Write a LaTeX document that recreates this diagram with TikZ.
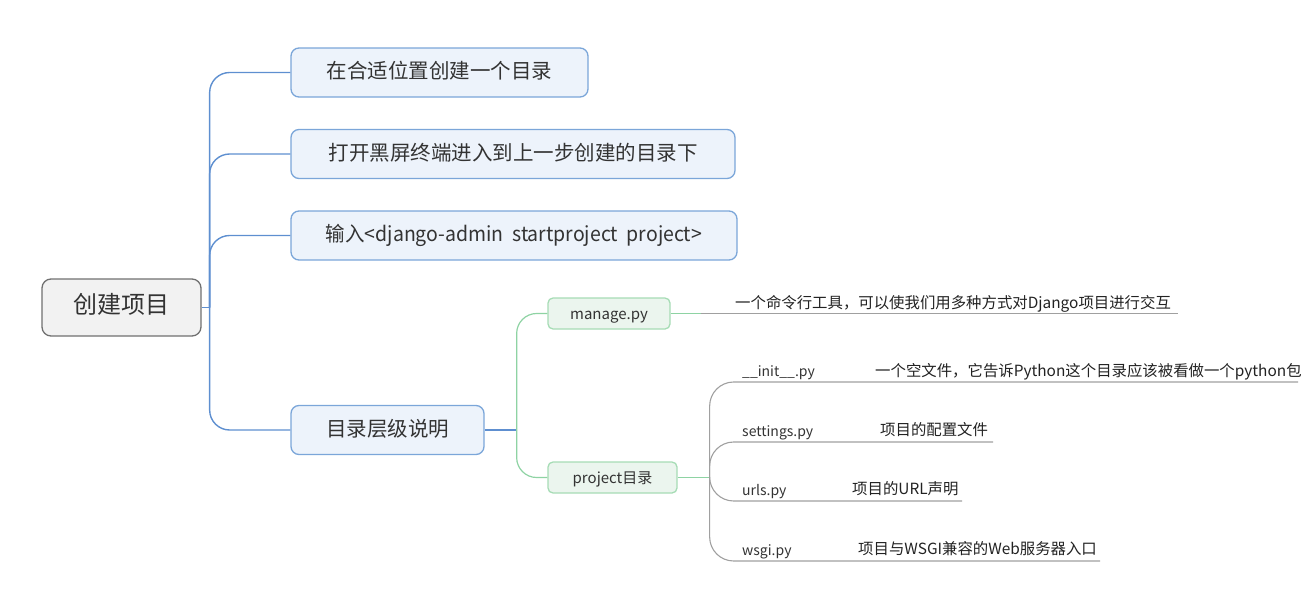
\documentclass[tikz,border=0pt]{standalone}
\usepackage{fontspec}
\usepackage{graphicx}
\setmainfont{Noto Sans CJK SC}
\usetikzlibrary{calc}
\definecolor{blueline}{HTML}{5E8FD0}
\definecolor{bluefill}{HTML}{EDF3FB}
\definecolor{blueborder}{HTML}{7BA6D9}
\definecolor{rootfill}{HTML}{F2F2F2}
\definecolor{rootborder}{HTML}{707070}
\definecolor{greenline}{HTML}{8ED3A3}
\definecolor{greenfill}{HTML}{EBF5EE}
\definecolor{greenborder}{HTML}{A6DCB5}
\definecolor{grayline}{HTML}{A0A0A0}
\definecolor{txt}{HTML}{333333}
\definecolor{desc}{HTML}{222222}
\begin{document}
\begin{tikzpicture}[x=1pt,y=-1pt,
  every node/.style={text height=1.2em, text depth=0em},
  rootbox/.style={draw=rootborder, fill=rootfill, rounded corners=9, line width=1.3, minimum width=159, minimum height=57, inner sep=0, text=txt, font=\fontsize{24}{28}\selectfont},
  bluebox/.style={draw=blueborder, fill=bluefill, rounded corners=8, line width=1.3, minimum height=49, inner sep=0, text=txt, font=\fontsize{20.5}{24}\selectfont},
  greenbox/.style={draw=greenborder, fill=greenfill, rounded corners=5, line width=1.3, minimum height=31, inner sep=0, text=txt, font=\fontsize{15}{18}\selectfont},
  leaf/.style={anchor=west, inner sep=0, text=txt, font=\fontsize{14}{17}\selectfont},
  desctext/.style={anchor=west, inner sep=0, text=desc, font=\fontsize{15.4}{18}\selectfont},
  bl/.style={draw=blueline, line width=1.4},
  gl/.style={draw=greenline, line width=1.2},
  grl/.style={draw=grayline, line width=1.1}]
\useasboundingbox (0,0) rectangle (1302,616);
% root and main branches
\node[rootbox] (root) at (121.5,307.5) {创建项目};
\node[bluebox, minimum width=297] (b1) at (439.5,72.5) {在合适位置创建一个目录};
\node[bluebox, minimum width=444] (b2) at (513,154) {打开黑屏终端进入到上一步创建的目录下};
\node[bluebox, minimum width=446] (b3) at (514,235.5) {\scalebox{0.95}[1]{输入<django-admin~~startproject~~project>}};
\node[bluebox, minimum width=193] (b4) at (387.5,430) {目录层级说明};
\coordinate (t) at ($(root.east)+(8,0)$);
\draw[bl] (root.east) -- (t);
\foreach \n in {b1,b2,b3,b4} \draw[bl, rounded corners=20] (t) |- (\n.west);
% second level
\node[greenbox, minimum width=122] (m) at (609,313.5) {manage.py};
\node[greenbox, minimum width=129] (p) at (612.5,477.5) {project目录};
\coordinate (g) at ($(b4.east)+(32,0)$);
\draw[bl] (b4.east) -- (g);
\draw[gl, rounded corners=20] (g) |- (m.west);
\draw[gl, rounded corners=20] (g) |- (p.west);
% manage.py description
\coordinate (m1) at ($(m.east)+(30,0)$);
\coordinate (mE) at (1178,313.5);
\draw[gl] (m.east) -- (m1);
\draw[grl] (m1) -- (mE);
\node[desctext] (md) at (735,302) {一个命令行工具，可以使我们用多种方式对Django项目进行交互};
% project directory
\coordinate (v) at ($(p.east)+(32,0)$);
\draw[gl] (p.east) -- (v);
\coordinate (iE) at (1298,382);
\coordinate (sE) at (993,442);
\coordinate (uE) at (962,501);
\coordinate (wE) at (1100,561);
\foreach \e in {iE,sE,uE,wE} \draw[grl, rounded corners=24] (v) |- (\e);
\node[leaf] (il) at (742,370) {\_\_init\_\_.py};
\node[leaf] (sl) at (742,430) {settings.py};
\node[leaf] (ul) at (742,489) {urls.py};
\node[leaf] (wl) at (742,549) {wsgi.py};
\node[desctext] (id) at (875,370) {一个空文件，它告诉Python这个目录应该被看做一个python包};
\node[desctext] (sd) at (880,429) {项目的配置文件};
\node[desctext] (ud) at (852,488) {项目的URL声明};
\node[desctext] (wd) at (858,548) {项目与WSGI兼容的Web服务器入口};
\end{tikzpicture}
\end{document}
